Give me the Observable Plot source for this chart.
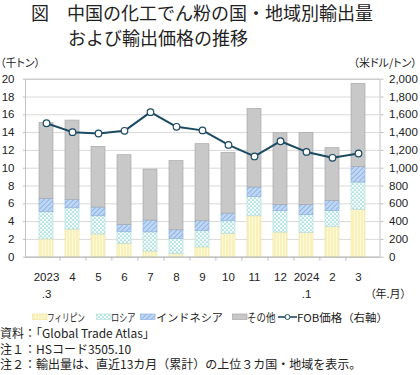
<!DOCTYPE html>
<html><head><meta charset="utf-8">
<script src="https://cdn.jsdelivr.net/npm/d3@7"></script>
<script src="https://cdn.jsdelivr.net/npm/@observablehq/plot@0.6"></script>
<style>
body{margin:0;background:#fff;width:420px;height:375px;position:relative;overflow:hidden;font-family:"Noto Sans CJK JP",sans-serif;color:#222;}
.abs{position:absolute;white-space:nowrap;}
#chart{position:absolute;left:0;top:55px;}
#legend{position:absolute;left:0;top:310px;width:420px;height:14px;font-size:10.8px;line-height:14px;}
#legend .t{position:absolute;top:0;white-space:nowrap;transform-origin:0 50%;}
#legend svg{position:absolute;top:0;}
.notes{position:absolute;left:0;top:325px;font-size:12px;line-height:15.5px;}
</style></head><body>
<div class="abs" style="left:31px;top:3px;font-size:18px;line-height:19px;">図　中国の化工でん粉の国・地域別輸出量</div>
<div class="abs" style="left:68px;top:28px;font-size:18px;line-height:19px;">および輸出価格の推移</div>
<div class="abs" style="left:0px;top:56px;font-size:11px;line-height:13px;font-feature-settings:'palt';">（千トン）</div>
<div class="abs" style="right:3px;top:56px;font-size:11px;line-height:13px;font-feature-settings:'palt';">（米ドル/トン）</div>
<div id="chart"></div>
<div class="abs" style="left:370px;top:286px;font-size:11px;line-height:14px;font-feature-settings:'palt';">（年.月）</div>
<div id="legend"></div>
<div class="notes">資料：「Global Trade Atlas」<br>注１：HSコード3505.10<br>注２：輸出量は、直近13カ月（累計）の上位３カ国・地域を表示。</div>
<script>
const months = ["2023.3","2023.4","2023.5","2023.6","2023.7","2023.8","2023.9","2023.10","2023.11","2023.12","2024.1","2024.2","2024.3"];
const monthLabels = ["2023\n.3","4","5","6","7","8","9","10","11","12","2024\n.1","2","3"];
const seriesNames = ["フィリピン","ロシア","インドネシア","その他"];
const philippines = [2.0, 3.1, 2.55, 1.5, 0.64, 0.34, 1.1, 2.62, 4.6, 2.77, 2.7, 3.37, 5.32];
const russia      = [3.06, 2.4, 2.05, 1.35, 2.16, 1.72, 1.86, 1.42, 2.18, 2.4, 2.02, 1.83, 3.07];
const indonesia   = [1.49, 0.95, 0.98, 0.78, 1.32, 0.97, 1.08, 0.86, 1.05, 0.71, 1.16, 1.13, 1.76];
const others      = [8.55, 8.9, 6.82, 7.83, 5.73, 7.77, 8.66, 6.82, 8.84, 8.05, 8.09, 5.92, 9.33];
const fobPrice    = [1505, 1405, 1390, 1420, 1630, 1465, 1425, 1262, 1132, 1303, 1183, 1117, 1165];
const leftTicks  = [0, 2, 4, 6, 8, 10, 12, 14, 16, 18, 20];
const rightTicks = [0, 200, 400, 600, 800, 1000, 1200, 1400, 1600, 1800, 2000];
const lineName = "FOB価格（右軸）";

const seriesValues = [philippines, russia, indonesia, others];
const patternIds = ["p-ph", "p-ru", "p-id", "p-ot"];
const patternUrls = patternIds.map(id => `url(#${id})`);
const strokeColors = ["#efe3a0", "#b9dede", "#8fb3de", "#a9a9a9"];
const ratio = rightTicks[rightTicks.length - 1] / leftTicks[leftTicks.length - 1];

const stackData = [];
months.forEach((m, i) => seriesNames.forEach((s, k) => stackData.push({month: m, series: s, value: seriesValues[k][i]})));
const priceData = months.map((m, i) => ({month: m, price: fobPrice[i]}));

const W = 420, H = 250, mL = 25, mR = 40.5, inL = 3.6, inR = 2.8;
const step = (W - mR - inR - (mL + inL)) / months.length;
const lineColor = "#1b4a63";

const plot = Plot.plot({
  width: W, height: H,
  marginTop: 23.7, marginBottom: 48.3, marginLeft: mL, marginRight: mR,
  style: {fontFamily: "'Liberation Sans', Arial, sans-serif", fontSize: "11.5px", color: "#222", background: "transparent", overflow: "visible"},
  x: {domain: months, paddingInner: 0.45, paddingOuter: 0.225, insetLeft: inL, insetRight: inR},
  y: {domain: [0, 20]},
  color: {domain: seriesNames, range: patternUrls},
  marks: [
    Plot.gridY(leftTicks, {stroke: "#d9d9d9", strokeOpacity: 1}),
    Plot.barY(stackData, Plot.stackY({x: "month", y: "value", z: "series", fill: "series", order: seriesNames})),
    Plot.frame({stroke: "#c4c4c4"}),
    Plot.ruleY([0], {stroke: "#bdbdbd"}),
    Plot.ruleX(months.slice(0, months.length - 1), {x: d => d, y1: 0, y2: -0.45, dx: step / 2, stroke: "#bdbdbd"}),
    Plot.line(priceData, {x: "month", y: d => d.price / ratio, stroke: lineColor, strokeWidth: 2}),
    Plot.dot(priceData, {x: "month", y: d => d.price / ratio, r: 3.3, fill: "white", stroke: lineColor, strokeWidth: 1.2}),
    Plot.axisY(leftTicks, {anchor: "left", tickSize: 2, tickPadding: 9, stroke: "#bdbdbd", fill: "#222", label: null}),
    Plot.axisY(rightTicks.map(v => v / ratio), {anchor: "right", tickSize: 3, tickPadding: 6, stroke: "#bdbdbd", fill: "#222", tickFormat: d => d3.format(",")(Math.round(d * ratio)), label: null}),
    Plot.axisX({tickSize: 0, tickPadding: 12, lineHeight: 1.45, fill: "#222", tickFormat: d => monthLabels[months.indexOf(d)], label: null})
  ]
});

const svg = d3.select(plot);
const defs = svg.insert("defs", ":first-child");
let p = defs.append("pattern").attr("id", "p-ph").attr("patternUnits", "userSpaceOnUse").attr("width", 3).attr("height", 3);
p.append("rect").attr("width", 3).attr("height", 3).attr("fill", "#fffad6");
p.append("line").attr("x1", 2).attr("x2", 2).attr("y1", 0).attr("y2", 3).attr("stroke", "#f2e6a4").attr("stroke-width", 1);
p = defs.append("pattern").attr("id", "p-ru").attr("patternUnits", "userSpaceOnUse").attr("width", 4).attr("height", 4);
p.append("rect").attr("width", 4).attr("height", 4).attr("fill", "#f4fbfb");
p.append("circle").attr("cx", 1).attr("cy", 1).attr("r", 0.85).attr("fill", "#86d0d0");
p.append("circle").attr("cx", 3).attr("cy", 3).attr("r", 0.85).attr("fill", "#86d0d0");
p = defs.append("pattern").attr("id", "p-id").attr("patternUnits", "userSpaceOnUse").attr("width", 3.5).attr("height", 3.5).attr("patternTransform", "rotate(45)");
p.append("rect").attr("width", 3.5).attr("height", 3.5).attr("fill", "#c0d7f3");
p.append("line").attr("x1", 0).attr("x2", 0).attr("y1", 0).attr("y2", 3.5).attr("stroke", "#84aee2").attr("stroke-width", 1.6);
p = defs.append("pattern").attr("id", "p-ot").attr("patternUnits", "userSpaceOnUse").attr("width", 4).attr("height", 4);
p.append("rect").attr("width", 4).attr("height", 4).attr("fill", "#c8c8c8");

svg.selectAll("rect").each(function() {
  const f = this.getAttribute("fill");
  const k = patternUrls.indexOf(f);
  if (k >= 0) { this.setAttribute("stroke", strokeColors[k]); this.setAttribute("stroke-width", 0.7); }
});

document.getElementById("chart").appendChild(plot);

// legend: item positions and widths taken from the reference layout
const swatchX = [31.7, 96, 140, 231.7];
const textX = [47, 111, 156, 247];
const textW = [38, 24.5, 67, 28.5];
const lg = d3.select("#legend");
function fit(span, w) {
  const cw = span.node().getBoundingClientRect().width;
  if (cw > 0) span.style("transform", `scaleX(${w / cw})`);
}
seriesNames.forEach((s, k) => {
  const sw = lg.append("svg").attr("width", 16).attr("height", 14).style("left", swatchX[k] + "px");
  sw.append("rect").attr("x", 0.5).attr("y", 4).attr("width", 14.5).attr("height", 5.5).attr("fill", patternUrls[k]).attr("stroke", strokeColors[k]).attr("stroke-width", 0.7);
  const t = lg.append("span").attr("class", "t").style("left", textX[k] + "px").text(s);
  fit(t, textW[k]);
});
const sw = lg.append("svg").attr("width", 20).attr("height", 14).style("left", "277.5px");
sw.append("line").attr("x1", 0).attr("x2", 19).attr("y1", 7).attr("y2", 7).attr("stroke", lineColor).attr("stroke-width", 1.6);
sw.append("circle").attr("cx", 9.5).attr("cy", 7).attr("r", 2.5).attr("fill", "white").attr("stroke", lineColor).attr("stroke-width", 1);
const tl = lg.append("span").attr("class", "t").style("left", "297px").text(lineName);
fit(tl, 91);
</script>
</body></html>
